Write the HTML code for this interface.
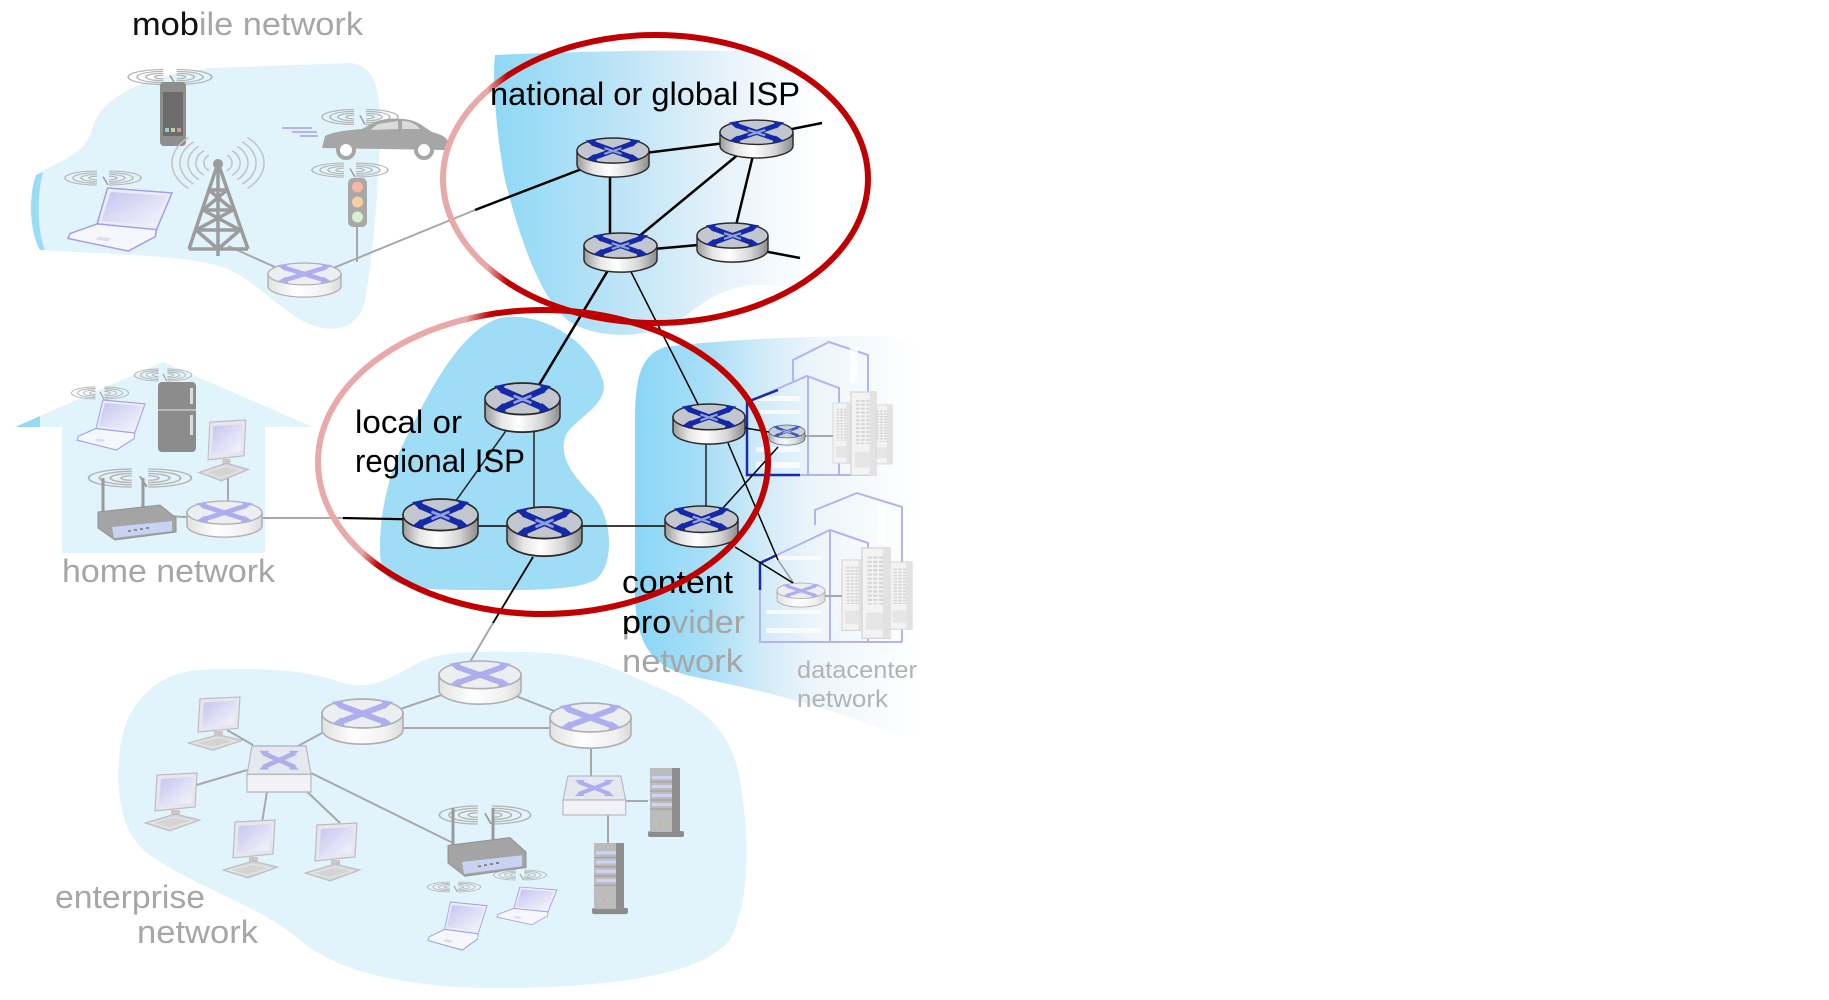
<!DOCTYPE html>
<html><head><meta charset="utf-8"><style>html,body{margin:0;padding:0;background:#fff;}svg{display:block}</style></head>
<body>
<svg width="1829" height="1000" viewBox="0 0 1829 1000" xmlns="http://www.w3.org/2000/svg" xmlns:xlink="http://www.w3.org/1999/xlink" font-family="'Liberation Sans', sans-serif">
<defs>
  <linearGradient id="rside" x1="0" x2="1" y1="0" y2="0">
    <stop offset="0" stop-color="#9a9a9a"/><stop offset="0.22" stop-color="#e6e6e6"/><stop offset="0.45" stop-color="#ffffff"/><stop offset="0.75" stop-color="#d6d6d6"/><stop offset="1" stop-color="#8c8c8c"/>
  </linearGradient>
  <linearGradient id="fside" x1="0" x2="1" y1="0" y2="0">
    <stop offset="0" stop-color="#e2e2e2"/><stop offset="0.4" stop-color="#ffffff"/><stop offset="0.8" stop-color="#f0f0f0"/><stop offset="1" stop-color="#dadada"/>
  </linearGradient>
  <linearGradient id="natg" gradientUnits="userSpaceOnUse" x1="493" y1="0" x2="862" y2="0">
    <stop offset="0" stop-color="#8ed8f5"/><stop offset="0.3" stop-color="#b6e2f6"/><stop offset="0.62" stop-color="#e6f2fa"/><stop offset="0.88" stop-color="#ffffff"/><stop offset="1" stop-color="#ffffff"/>
  </linearGradient>
  <linearGradient id="cpg" gradientUnits="userSpaceOnUse" x1="635" y1="0" x2="921" y2="0">
    <stop offset="0" stop-color="#8ad6f5"/><stop offset="0.25" stop-color="#a8def6"/><stop offset="0.45" stop-color="#d2ebf8"/><stop offset="0.62" stop-color="#ecf5fb"/><stop offset="0.85" stop-color="#f8fbfe"/><stop offset="1" stop-color="#ffffff"/>
  </linearGradient>
  <linearGradient id="nring" gradientUnits="userSpaceOnUse" x1="487" y1="0" x2="507" y2="0">
    <stop offset="0" stop-color="#eaa9a9"/><stop offset="1" stop-color="#c00000"/>
  </linearGradient>
  <linearGradient id="rring" gradientUnits="userSpaceOnUse" x1="418" y1="427" x2="436" y2="435">
    <stop offset="0" stop-color="#eaa9a9"/><stop offset="1" stop-color="#c00000"/>
  </linearGradient>
  <linearGradient id="scr" x1="0" y1="0" x2="1" y2="1">
    <stop offset="0" stop-color="#c4c4ee"/><stop offset="1" stop-color="#f6f6fd"/>
  </linearGradient>
  <pattern id="grill" width="4" height="3" patternUnits="userSpaceOnUse">
    <rect x="0" y="0" width="3" height="1.6" fill="#d6d6d6"/>
  </pattern>
  <clipPath id="cmob"><rect x="120" y="0" width="78" height="45"/></clipPath>
  <clipPath id="cpro"><rect x="615" y="600" width="55" height="34"/></clipPath>

  <g id="rtA">
    <path d="M-50,-9.6 V9.8 A50,17.4 0 0 0 50,9.8 V-9.6 Z" fill="url(#rside)" stroke="#2a2a2a" stroke-width="2"/>
    <ellipse cx="0" cy="-9.6" rx="50" ry="17.4" fill="#c2c7cf" stroke="#2a2a2a" stroke-width="2"/>
    <path d="M-29,-20 L29,1 M29,-20 L-29,1" stroke="#1428a8" stroke-width="7" fill="none"/>
    <path d="M-38,-23.5 L-23,-26 L-27,-15 Z M38,-23.5 L23,-26 L27,-15 Z M-38,3 L-26,-5 L-22,5 Z M38,3 L26,-5 L22,5 Z" fill="#1428a8"/>
    <path d="M-12,-13 L12,-5 M12,-13 L-12,-5" stroke="#8ea2d8" stroke-width="3"/>
  </g>
  <g id="rtF">
    <path d="M-50,-9.6 V9.8 A50,17.4 0 0 0 50,9.8 V-9.6 Z" fill="url(#fside)" stroke="#b0b0b0" stroke-width="2"/>
    <ellipse cx="0" cy="-9.6" rx="50" ry="17.4" fill="#eceef2" stroke="#b0b0b0" stroke-width="2"/>
    <path d="M-29,-20 L29,1 M29,-20 L-29,1" stroke="#aeaeee" stroke-width="7" fill="none"/>
    <path d="M-38,-23.5 L-23,-26 L-27,-15 Z M38,-23.5 L23,-26 L27,-15 Z M-38,3 L-26,-5 L-22,5 Z M38,3 L26,-5 L22,5 Z" fill="#aeaeee"/>
  </g>
  <g id="wv" fill="none" stroke="#b4b4b4" stroke-width="1.5">
    <path d="M-6,-2.5 A8,2.5 0 0 0 -6,2.5 M-6,-5 A16,5 0 0 0 -6,5 M-6,-7.5 A24,7.5 0 0 0 -6,7.5 M-6,-10 A32,10 0 0 0 -6,10"/>
    <path d="M6,-2.5 A8,2.5 0 0 1 6,2.5 M6,-5 A16,5 0 0 1 6,5 M6,-7.5 A24,7.5 0 0 1 6,7.5 M6,-10 A32,10 0 0 1 6,10"/>
    <path d="M0,-2 L5,10" stroke="#999"/>
  </g>
  <g id="lap">
    <path d="M38,0 L100,5 L85,43 L28,37 Z" fill="#ececfa" stroke="#a2a2e2" stroke-width="1.5"/>
    <path d="M41,4 L95,8 L82,39 L32,34 Z" fill="url(#scr)"/>
    <path d="M28,37 L85,43 L84,50 L58,65 L0,52 L2,47 Z" fill="#f6f6fd" stroke="#a2a2e2" stroke-width="1.5"/>
    <path d="M30,50 L42,52 L38,55 L26,53 Z" fill="#dcdcf4"/>
  </g>
  <g id="dsk">
    <path d="M12,2 L52,0 L50,34 L10,38 Z" fill="#e6e6ec" stroke="#bcbcc4" stroke-width="1.2"/>
    <path d="M16,6 L48,4 L46,30 L14,33 Z" fill="url(#scr)"/>
    <rect x="26" y="37" width="9" height="6" fill="#c8c8c8"/>
    <path d="M0,50 L30,41 L55,47 L25,58 Z" fill="#d4d4d4" stroke="#bcbcbc" stroke-width="1"/>
    <path d="M6,50 L30,44 L48,48 L24,55 Z" fill="none" stroke="#e8e8e8" stroke-width="1"/>
  </g>
  <g id="srv">
    <rect x="0" y="63" width="36" height="6" rx="2" fill="#8c8c8c"/>
    <rect x="2" y="0" width="30" height="64" fill="#bcbcbc"/>
    <rect x="24" y="0" width="8" height="64" fill="#8e8e8e"/>
    <rect x="4" y="8" width="20" height="3" fill="#ccd3f6"/><rect x="4" y="17" width="20" height="3" fill="#ccd3f6"/>
    <rect x="4" y="26" width="20" height="3" fill="#ccd3f6"/><rect x="4" y="35" width="20" height="3" fill="#ccd3f6"/>
    <path d="M2,14 H24 M2,23 H24 M2,32 H24 M2,41 H24" stroke="#9c9c9c" stroke-width="1"/>
    <circle cx="8" cy="56" r="1.6" fill="#9d9"/><circle cx="12.5" cy="56" r="1.6" fill="#f99"/><circle cx="17" cy="56" r="1.6" fill="#9d9"/>
  </g>
  <g id="sw">
    <path d="M5,0 L59,0 L64,24 L0,24 Z" fill="#e6e8f0" stroke="#b8b8c8" stroke-width="1.2"/>
    <rect x="0" y="24" width="64" height="15" fill="#f2f2f6" stroke="#b8b8c8" stroke-width="1.2"/>
    <path d="M16,6 L48,18 M48,6 L16,18" stroke="#aeaeee" stroke-width="4"/>
    <path d="M12,4 L22,4 L18,9 Z M52,4 L42,4 L46,9 Z M12,20 L22,20 L18,15 Z M52,20 L42,20 L46,15 Z" fill="#aeaeee"/>
  </g>
  <g id="wr">
    <path d="M5,0 L5,34 M45,0 L45,30" stroke="#9a9a9a" stroke-width="3"/>
    <path d="M0,34 L62,27 L78,40 L78,54 L17,62 L0,50 Z" fill="#a4a4a4" stroke="#929292" stroke-width="1"/>
    <path d="M14,49 L74,43 L74,53 L16,60 Z" fill="#c8d2f2"/>
    <path d="M30,53 h3 M36,52 h3 M42,51 h3 M48,50 h3" stroke="#777" stroke-width="1.5"/>
  </g>
  <g id="twr">
    <rect x="0" y="0" width="20" height="64" fill="#f3f3f3" stroke="#d6d6d6" stroke-width="1"/>
    <rect x="3" y="6" width="12" height="34" fill="url(#grill)"/>
    <rect x="3" y="46" width="12" height="12" fill="#e6e6e6"/>
    <rect x="15" y="0" width="5" height="64" fill="#e2e2e2"/>
  </g>
</defs>

<!-- faded background blobs -->
<path d="M36,175 C60,160 85,155 92,130 C100,95 150,75 210,68 L350,63 C375,65 382,90 380,140 C378,200 372,260 365,300 C360,330 330,335 305,322 C280,310 255,280 225,268 C190,255 120,255 40,250 C28,230 28,195 36,175 Z" fill="#e1f4fc"/>
<path d="M36,175 C29,195 29,230 40,250 L45,250 C37,230 37,195 43,172 Z" fill="#9adcf5"/>
<path d="M15,427 L163,362 L313,427 L265,427 L265,553 L62,553 L62,427 Z" fill="#e1f4fc"/>
<path d="M15,427 L40,416 L40,427 Z" fill="#9ad9f2"/>
<path d="M200,670 C250,668 300,668 340,682 C370,692 390,678 420,662 C440,652 470,651 520,652 C570,652 600,660 640,680 C690,700 730,720 740,780 C750,840 750,900 730,940 C700,975 620,985 520,988 C420,990 340,975 300,940 C260,905 200,890 150,855 C120,835 115,790 120,750 C125,700 160,672 200,670 Z" fill="#e1f4fc"/>

<!-- active blobs -->
<path d="M495,55 C600,50 750,48 860,55 L862,290 C830,292 790,285 755,285 C720,287 700,305 680,320 C650,340 590,340 565,318 C540,295 520,240 505,180 C497,140 492,80 495,55 Z" fill="url(#natg)"/>
<path d="M635,420 C635,380 640,355 665,347 C720,340 800,336 880,336 C910,336 920,345 921,370 L921,720 C921,740 905,740 885,730 C820,705 760,690 700,678 C655,670 638,650 635,600 Z" fill="url(#cpg)"/>
<path d="M500,318 C540,310 590,340 603,380 C610,405 575,418 566,435 C558,455 572,475 592,495 C612,515 615,560 598,578 C580,592 520,590 470,590 C420,590 385,588 381,565 C377,530 385,480 405,440 C430,390 460,330 500,318 Z" fill="#9fdcf6"/>

<!-- datacenter buildings -->
<g fill="none" stroke="#b4b4ec" stroke-width="2">
  <path d="M793,381 L793,360 L829,342 L868,355 L868,475"/>
  <path d="M747,402 L807,376 L839,388 L839,475 M808,376 L808,475 M747,475 L868,475"/>
  <path d="M815,525 L815,510 L857,493 L902,507 L902,642"/>
  <path d="M760,563 L830,530 L868,543 L868,642 M830,530 L830,642 M760,563 L760,642 L902,642"/>
</g>
<g fill="#ffffff" opacity="0.75">
  <rect x="756" y="396" width="44" height="5"/><rect x="756" y="410" width="44" height="4"/>
  <rect x="756" y="447" width="44" height="5"/><rect x="756" y="462" width="44" height="6"/>
  <rect x="850" y="347" width="8" height="36"/>
  <rect x="766" y="556" width="56" height="4"/><rect x="766" y="610" width="56" height="4"/><rect x="766" y="628" width="56" height="5"/>
  <rect x="878" y="505" width="8" height="40"/>
</g>
<path d="M778,390 L747,402 L747,475 L800,475" fill="none" stroke="#1a28b0" stroke-width="2.5"/>
<path d="M777,555 L760,563 L760,590" fill="none" stroke="#1a28b0" stroke-width="2.5"/>
<use xlink:href="#twr" transform="translate(833,403) scale(0.9,0.94)"/>
<use xlink:href="#twr" transform="translate(872,405) scale(1,0.92)"/>
<use xlink:href="#twr" transform="translate(851,392) scale(1.25,1.3)"/>
<use xlink:href="#twr" transform="translate(842,560) scale(1.1,1.1)"/>
<use xlink:href="#twr" transform="translate(889,562) scale(1.15,1.05)"/>
<use xlink:href="#twr" transform="translate(862,548) scale(1.4,1.41)"/>

<!-- faded lines -->
<g stroke="#a8a8a8" stroke-width="2" fill="none">
  <path d="M228,246 L304,280"/>
  <path d="M357,227 L357,262"/>
  <path d="M304,280 L475,210"/>
  <path d="M147,515 L224,519"/>
  <path d="M228,463 L228,505"/>
  <path d="M224,518 L343,518"/>
  <path d="M493,623 L470,662"/>
  <path d="M480,682 L362,722 M480,682 L590,725 M362,728 L590,728"/>
  <path d="M322,733 L298,746"/>
  <path d="M253,745 L227,730"/>
  <path d="M247,770 L173,792"/>
  <path d="M268,785 L262,823"/>
  <path d="M300,785 L340,823"/>
  <path d="M311,773 L453,843"/>
  <path d="M591,748 L591,776"/>
  <path d="M626,801 L648,801"/>
  <path d="M608,815 L608,843"/>
  <path d="M805,436 L833,436"/>
  <path d="M825,596 L842,596"/>
  <path d="M778,560 L795,585" stroke="#9a9a9a" stroke-width="1.5"/>
</g>

<!-- active lines -->
<g stroke="#000" fill="none">
  <path d="M475,210 L613,157" stroke-width="2.5"/>
  <path d="M613,157 L757,139 M610,157 L610,252 M757,139 L620,252 M757,139 L732,242 M620,252 L732,242" stroke-width="2.5"/>
  <path d="M757,136 L822,123 M732,245 L800,258" stroke-width="2.5"/>
  <path d="M619,252 L530,400" stroke-width="2.5"/>
  <path d="M622,254 L708,424" stroke-width="1.5"/>
  <path d="M523,407 L440,523" stroke-width="1.5" stroke="#222"/>
  <path d="M534,407 L534,530" stroke-width="1.5" stroke="#222"/>
  <path d="M440,526 L702,526" stroke-width="1.8" stroke="#222"/>
  <path d="M343,518 L440,520" stroke-width="2.2"/>
  <path d="M533,557 L493,623" stroke-width="1.8"/>
  <path d="M706,424 L706,526" stroke-width="1.5" stroke="#222"/>
  <path d="M745,428 L769,432" stroke-width="1.5"/>
  <path d="M728,443 L778,560" stroke-width="1.5"/>
  <path d="M723,508 L778,447" stroke-width="1.5"/>
  <path d="M735,547 L793,583" stroke-width="1.5"/>
</g>

<!-- mobile icons -->
<use xlink:href="#wv" transform="translate(170,77) scale(1.1,0.75)"/>
<rect x="160" y="82" width="26" height="64" rx="4" fill="#8e8e8e"/>
<rect x="163" y="92" width="20" height="44" fill="#6c6c6c"/>
<rect x="165" y="128" width="4" height="4" fill="#9cc"/><rect x="171" y="128" width="4" height="4" fill="#cc9"/><rect x="177" y="128" width="4" height="4" fill="#c99"/>
<g stroke="#c2c2c2" stroke-width="1.5" fill="none">
  <path d="M209,155.2 A14,10.1 0 0 0 209,170.8 M227,155.2 A14,10.1 0 0 1 227,170.8"/>
  <path d="M203.9,150.8 A22,15.8 0 0 0 203.9,175.2 M232.1,150.8 A22,15.8 0 0 1 232.1,175.2"/>
  <path d="M198.8,146.4 A30,21.6 0 0 0 198.8,179.6 M237.2,146.4 A30,21.6 0 0 1 237.2,179.6"/>
  <path d="M193.7,141.9 A38,27.4 0 0 0 193.7,184.1 M242.3,141.9 A38,27.4 0 0 1 242.3,184.1"/>
  <path d="M188.6,137.5 A46,33.1 0 0 0 188.6,188.5 M247.4,137.5 A46,33.1 0 0 1 247.4,188.5"/>
</g>
<g stroke="#9c9c9c" stroke-width="3.5" fill="none" stroke-linejoin="round">
  <path d="M218,163 L189,249 M218,163 L248,249 M218,163 L218,256"/>
  <path d="M209,190 L227,190 M203,210 L233,210 M196,230 L240,230 M189,249 L248,249"/>
  <path d="M209,190 L233,210 M227,190 L203,210 M203,210 L240,230 M233,210 L196,230 M196,230 L218,249 M240,230 L218,249"/>
</g>
<circle cx="218" cy="164" r="5" fill="#9c9c9c"/>
<use xlink:href="#wv" transform="translate(103,178) scale(1.0,0.7)"/>
<use xlink:href="#lap" transform="translate(68,188) scale(1.04,0.97)"/>
<use xlink:href="#wv" transform="translate(360,117) scale(1.0,0.75)"/>
<path d="M282,128 L312,128 M292,132 L317,132 M300,136 L318,136" stroke="#b4b4ec" stroke-width="2"/>
<path d="M322,148 L325,136 C335,131 350,130 362,129 L375,122 C385,117 410,117 420,124 L432,132 C440,134 447,137 448,142 L446,150 Z" fill="#a6a6a6"/>
<path d="M378,124 L398,121 L398,129 L370,130 Z M402,121 C410,121 416,124 420,129 L402,129 Z" fill="#dcdcdc"/>
<circle cx="346" cy="150" r="8" fill="#fff" stroke="#a6a6a6" stroke-width="4"/>
<circle cx="424" cy="150" r="8" fill="#fff" stroke="#a6a6a6" stroke-width="4"/>
<use xlink:href="#wv" transform="translate(350,170) scale(1.0,0.7)"/>
<rect x="348" y="178" width="19" height="49" rx="5" fill="#a8a8a8"/>
<circle cx="357.5" cy="187" r="5.5" fill="#f4b8a2"/>
<circle cx="357.5" cy="202" r="5.5" fill="#f8cfa0"/>
<circle cx="357.5" cy="217" r="5.5" fill="#d8efd0"/>

<!-- home icons -->
<use xlink:href="#wv" transform="translate(100,393) scale(0.75,0.6)"/>
<use xlink:href="#lap" transform="translate(77,400) scale(0.68,0.77)"/>
<use xlink:href="#wv" transform="translate(163,375) scale(0.75,0.6)"/>
<rect x="158" y="382" width="38" height="70" rx="4" fill="#8c8c8c"/>
<path d="M158,410 L196,410" stroke="#c8c8c8" stroke-width="1.5"/>
<rect x="190" y="388" width="3" height="16" fill="#dcdcdc"/><rect x="190" y="415" width="3" height="20" fill="#dcdcdc"/>
<use xlink:href="#dsk" transform="translate(199,420) scale(0.9,1.05)"/>
<use xlink:href="#wv" transform="translate(140,478) scale(1.35,0.9)"/>
<use xlink:href="#wr" transform="translate(98,478)"/>

<!-- enterprise icons -->
<use xlink:href="#dsk" transform="translate(188,697) scale(1,0.92)"/>
<use xlink:href="#dsk" transform="translate(145,773)"/>
<use xlink:href="#dsk" transform="translate(223,820)"/>
<use xlink:href="#dsk" transform="translate(305,823)"/>
<use xlink:href="#sw" transform="translate(247,746) scale(1,1.18)"/>
<use xlink:href="#sw" transform="translate(563,776) scale(0.98,1.0)"/>
<use xlink:href="#srv" transform="translate(648,768)"/>
<use xlink:href="#srv" transform="translate(592,843) scale(1,1.03)"/>
<use xlink:href="#wv" transform="translate(485,815) scale(1.2,0.9)"/>
<use xlink:href="#wr" transform="translate(448,808) scale(1,1.1)"/>
<use xlink:href="#wv" transform="translate(454,887) scale(0.7,0.5)"/>
<use xlink:href="#wv" transform="translate(520,875) scale(0.7,0.5)"/>
<use xlink:href="#lap" transform="translate(428,902) scale(0.59,0.74)"/>
<use xlink:href="#lap" transform="translate(497,887) scale(0.6,0.58)"/>

<!-- faded routers -->
<use xlink:href="#rtF" transform="translate(304.5,280) scale(0.73,0.63)"/>
<use xlink:href="#rtF" transform="translate(224.5,519) scale(0.75,0.667)"/>
<use xlink:href="#rtF" transform="translate(480,682.5) scale(0.82,0.796)"/>
<use xlink:href="#rtF" transform="translate(362.5,721.5) scale(0.81,0.833)"/>
<use xlink:href="#rtF" transform="translate(590.5,725.5) scale(0.81,0.833)"/>
<use xlink:href="#rtF" transform="translate(801,595) scale(0.48,0.444)"/>
<g opacity="0.75"><use xlink:href="#rtA" transform="translate(787,435) scale(0.36,0.37)"/></g>

<!-- active routers -->
<use xlink:href="#rtA" transform="translate(613,157.5) scale(0.72,0.722)"/>
<use xlink:href="#rtA" transform="translate(756.5,139) scale(0.73,0.70)"/>
<use xlink:href="#rtA" transform="translate(620.5,252.5) scale(0.73,0.722)"/>
<use xlink:href="#rtA" transform="translate(732.5,242.5) scale(0.71,0.722)"/>
<use xlink:href="#rtA" transform="translate(522.5,407.5) scale(0.75,0.907)"/>
<use xlink:href="#rtA" transform="translate(440.5,523.5) scale(0.75,0.907)"/>
<use xlink:href="#rtA" transform="translate(544.5,531.5) scale(0.75,0.907)"/>
<use xlink:href="#rtA" transform="translate(709,424) scale(0.72,0.74)"/>
<use xlink:href="#rtA" transform="translate(701.5,526.5) scale(0.73,0.76)"/>

<!-- texts (under rings) -->
<text x="132" y="35" font-size="32" fill="#a6a6a6" textLength="231" lengthAdjust="spacingAndGlyphs">mobile network</text>
<text x="132" y="35" font-size="32" fill="#111" textLength="231" lengthAdjust="spacingAndGlyphs" clip-path="url(#cmob)">mobile network</text>
<text x="355" y="433" font-size="32" fill="#000" textLength="107" lengthAdjust="spacingAndGlyphs">local or</text>
<text x="355" y="472" font-size="32" fill="#000" textLength="170" lengthAdjust="spacingAndGlyphs">regional ISP</text>
<text x="62" y="582" font-size="32" fill="#a6a6a6" textLength="213" lengthAdjust="spacingAndGlyphs">home network</text>
<text x="622" y="593" font-size="32" fill="#000" textLength="111" lengthAdjust="spacingAndGlyphs">content</text>
<text x="622" y="633" font-size="32" fill="#a6a6a6" textLength="123" lengthAdjust="spacingAndGlyphs">provider</text>
<text x="622" y="633" font-size="32" fill="#000" textLength="123" lengthAdjust="spacingAndGlyphs" clip-path="url(#cpro)">provider</text>
<text x="622" y="672" font-size="32" fill="#a6a6a6" textLength="121" lengthAdjust="spacingAndGlyphs">network</text>
<text x="797" y="678" font-size="24" fill="#b3b3b3" textLength="120" lengthAdjust="spacingAndGlyphs">datacenter</text>
<text x="797" y="707" font-size="24" fill="#b3b3b3" textLength="91" lengthAdjust="spacingAndGlyphs">network</text>
<text x="55" y="908" font-size="32" fill="#a6a6a6" textLength="150" lengthAdjust="spacingAndGlyphs">enterprise</text>
<text x="137" y="943" font-size="32" fill="#a6a6a6" textLength="121" lengthAdjust="spacingAndGlyphs">network</text>

<!-- rings -->
<ellipse cx="543" cy="462" rx="225" ry="152" fill="none" stroke="url(#rring)" stroke-width="6"/>
<ellipse cx="655.5" cy="179" rx="212.5" ry="144" fill="none" stroke="url(#nring)" stroke-width="6"/>

<text x="490" y="105" font-size="32" fill="#000" textLength="310" lengthAdjust="spacingAndGlyphs">national or global ISP</text>
</svg>
</body></html>
